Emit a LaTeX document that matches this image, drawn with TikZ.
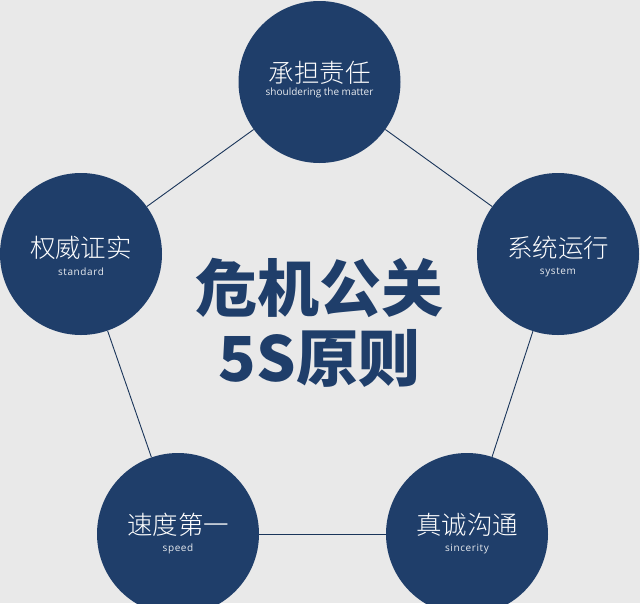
\documentclass[tikz,border=0pt]{standalone}
\usepackage{fontspec}
\setmainfont{Open Sans}
\newfontfamily\cjk{Noto Sans CJK SC}
\newfontfamily\cjklight{Noto Sans CJK SC Light}
\newfontfamily\spaced[LetterSpace=6]{Open Sans}
\usepackage{xcolor}

\definecolor{navy}{RGB}{31,62,106}
\definecolor{paper}{RGB}{233,233,233}

\tikzset{
  principle/.style={circle, fill=navy, minimum size=162pt, inner sep=0pt},
  cnname/.style={text=white, font=\cjklight\fontsize{25.5}{25.5}\selectfont, inner sep=0pt},
  enname/.style={text=white!90!navy, font=\spaced\fontsize{10}{10}\selectfont, inner sep=0pt},
  title/.style={text=navy, font=\cjk\bfseries\fontsize{62}{62}\selectfont, inner sep=0pt},
  link/.style={draw=navy!85!black, line width=0.9pt}
}

\begin{document}
\begin{tikzpicture}[x=1pt,y=-1pt]
        \fill[paper] (0,0) rectangle (640,603);
        \clip (0,0) rectangle (640,603);
        % the five principles
        \node[principle] (duty)   at (319.5,82)  {};
        \node[principle] (system) at (558,254)   {};
        \node[principle] (truth)  at (467,534)   {};
        \node[principle] (speed)  at (178,534)   {};
        \node[principle] (proof)  at (81,254)    {};
        % pentagon
        \draw[link] (duty) -- (system);
        \draw[link] (system) -- (truth);
        \draw[link] (truth) -- (speed);
        \draw[link] (speed) -- (proof);
        \draw[link] (proof) -- (duty);
        % labels
        \node[cnname] (duty-cn)   at ([yshift=9pt]duty.center)    {承担责任};
        \node[enname, font=\fontsize{10}{10}\selectfont] (duty-en) at ([yshift=-11pt]duty.center) {shouldering the matter};
        \node[cnname] (system-cn) at ([yshift=6pt]system.center)  {系统运行};
        \node[enname] (system-en) at ([yshift=-18pt]system.center) {system};
        \node[cnname] (truth-cn)  at ([yshift=9pt]truth.center)   {真诚沟通};
        \node[enname] (truth-en)  at ([yshift=-15pt]truth.center) {sincerity};
        \node[cnname] (speed-cn)  at ([yshift=9pt]speed.center)   {速度第一};
        \node[enname] (speed-en)  at ([yshift=-15pt]speed.center) {speed};
        \node[cnname] (proof-cn)  at ([yshift=6pt]proof.center)   {权威证实};
        \node[enname] (proof-en)  at ([yshift=-18pt]proof.center) {standard};
        % centre
        \node[title] (head) at (319.5,288) {危机公关};
        \node[title] (rule) at (319.5,358) {5S原则};
\end{tikzpicture}
\end{document}
